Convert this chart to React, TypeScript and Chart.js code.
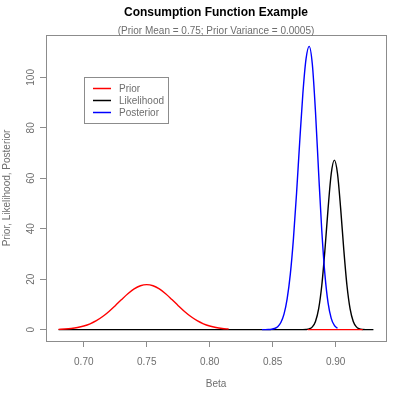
import React, { useEffect, useRef } from "react";
import { Chart, registerables } from "chart.js";

Chart.register(...registerables);

const titleText = "Consumption Function Example";
const subtitleText = "(Prior Mean = 0.75; Prior Variance = 0.0005)";
const xAxisTitle = "Beta";
const yAxisTitle = "Prior, Likelihood, Posterior";
const seriesNames = ["Prior", "Likelihood", "Posterior"];
const seriesColors = ["#ff0000", "#000000", "#0000ff"];

const xTicks = [0.7, 0.75, 0.8, 0.85, 0.9];
const yTicks = [0, 20, 40, 60, 80, 100];

const priorX = [
  0.68, 0.685, 0.69, 0.695, 0.7, 0.705, 0.71, 0.715, 0.72, 0.725, 0.73, 0.735, 0.74, 0.745,
  0.75, 0.755, 0.76, 0.765, 0.77, 0.775, 0.78, 0.785, 0.79, 0.795, 0.8, 0.805, 0.81, 0.815,
];
const priorY = [
  0.13, 0.26, 0.48, 0.85, 1.45, 2.33, 3.57, 5.21, 7.22, 9.52, 11.94, 14.24, 16.14, 17.41,
  17.85, 17.41, 16.14, 14.24, 11.94, 9.52, 7.22, 5.21, 3.57, 2.33, 1.45, 0.85, 0.48, 0.26,
];
const priorTailX = [0.8778, 0.9215];
const priorTailY = [0, 0];

const likelihoodX = [
  0.68, 0.874, 0.8765, 0.879, 0.8815, 0.884, 0.8865, 0.889, 0.8915, 0.894, 0.8965, 0.899,
  0.9015, 0.904, 0.9065, 0.909, 0.9115, 0.914, 0.9165, 0.919, 0.9215, 0.924, 0.93,
];
const likelihoodY = [
  0, 0.01, 0.07, 0.31, 1.1, 3.27, 8.23, 17.5, 31.6, 48.0, 61.8, 67.2,
  61.8, 48.0, 31.6, 17.5, 8.23, 3.27, 1.1, 0.31, 0.07, 0.01, 0,
];

const posteriorX = [
  0.8415, 0.844, 0.8465, 0.849, 0.8515, 0.854, 0.8565, 0.859, 0.8615, 0.864, 0.8665, 0.869,
  0.8715, 0.874, 0.8765, 0.879, 0.8815, 0.884, 0.8865, 0.889, 0.8915, 0.894, 0.8965, 0.899, 0.9015,
];
const posteriorY = [
  0, 0.01, 0.05, 0.16, 0.46, 1.2, 2.85, 6.16, 12.2, 21.9, 36.1, 54.3,
  74.7, 93.7, 107.3, 112.3, 105.2, 86.4, 62.2, 39.3, 21.8, 10.6, 4.5, 1.68, 0.55,
];

const FONT = '"Liberation Sans", Arial, sans-serif';
const GRAY_TEXT = "#6e6e6e";
const GRAY_LINE = "#8c8c8c";

const pts = (xs: number[], ys: number[]) => xs.map((x, i) => ({ x, y: ys[i] }));

const decorPlugin = {
  id: "decor",
  afterDraw(chart: any) {
    const { ctx, chartArea: a } = chart;
    ctx.save();
    // plot box
    ctx.strokeStyle = GRAY_LINE;
    ctx.lineWidth = 1;
    ctx.strokeRect(Math.round(a.left) + 0.5, Math.round(a.top) + 0.5, Math.round(a.right - a.left), Math.round(a.bottom - a.top));
    // titles
    const cx = (a.left + a.right) / 2;
    ctx.textAlign = "center";
    ctx.textBaseline = "middle";
    ctx.fillStyle = "#000";
    ctx.font = `bold 12px ${FONT}`;
    ctx.fillText(titleText, cx, 13);
    ctx.fillStyle = GRAY_TEXT;
    ctx.font = `10px ${FONT}`;
    ctx.fillText(subtitleText, cx, 31);
    // legend
    const bx = 84, by = 77, bw = 84, bh = 46;
    ctx.strokeStyle = GRAY_LINE;
    ctx.strokeRect(bx + 0.5, by + 0.5, bw, bh);
    ctx.textAlign = "left";
    seriesNames.forEach((name, i) => {
      const y = by + 11.5 + i * 12;
      ctx.strokeStyle = seriesColors[i];
      ctx.lineWidth = 1.5;
      ctx.beginPath();
      ctx.moveTo(bx + 9, y);
      ctx.lineTo(bx + 27, y);
      ctx.stroke();
      ctx.fillStyle = GRAY_TEXT;
      ctx.fillText(name, bx + 35, y + 0.5);
    });
    ctx.restore();
  },
};

export default function App() {
  const ref = useRef<HTMLCanvasElement | null>(null);
  useEffect(() => {
    if (!ref.current) return;
    const lineDs = (label: string, data: any[], color: string, order: number) => ({
      label,
      data,
      borderColor: color,
      backgroundColor: color,
      borderWidth: 1.4,
      pointRadius: 0,
      fill: false,
      cubicInterpolationMode: "monotone" as const,
      order,
    });
    const chart = new Chart(ref.current, {
      type: "line",
      data: {
        datasets: [
          lineDs(seriesNames[0], pts(priorX, priorY), seriesColors[0], 0),
          lineDs(seriesNames[0] + " tail", pts(priorTailX, priorTailY), seriesColors[0], 0),
          lineDs(seriesNames[2], pts(posteriorX, posteriorY), seriesColors[2], 1),
          lineDs(seriesNames[1], pts(likelihoodX, likelihoodY), seriesColors[1], 2),
        ],
      },
      options: {
        animation: false,
        responsive: false,
        devicePixelRatio: 1,
        layout: { padding: { top: 35, right: 14, left: 0, bottom: 0 } },
        plugins: { legend: { display: false }, tooltip: { enabled: false }, title: { display: false } },
        scales: {
          x: {
            type: "linear",
            min: 0.67,
            max: 0.94,
            afterBuildTicks: (s: any) => {
              s.ticks = xTicks.map((v) => ({ value: v }));
            },
            afterFit: (s: any) => {
              s.height = 52;
            },
            border: { display: false },
            grid: { drawOnChartArea: false, drawTicks: true, tickLength: 6, color: GRAY_LINE },
            ticks: {
              autoSkip: false,
              maxRotation: 0,
              padding: 9,
              color: GRAY_TEXT,
              font: { family: FONT, size: 10 },
              callback: (v: any) => Number(v).toFixed(2),
            },
            title: {
              display: true,
              text: xAxisTitle,
              color: GRAY_TEXT,
              font: { family: FONT, size: 10 },
              padding: { top: 0, bottom: 3 },
            },
          },
          y: {
            type: "linear",
            min: -4.49,
            max: 116.8,
            afterBuildTicks: (s: any) => {
              s.ticks = yTicks.map((v) => ({ value: v }));
            },
            afterFit: (s: any) => {
              s.width = 46;
            },
            border: { display: false },
            grid: { drawOnChartArea: false, drawTicks: true, tickLength: 6, color: GRAY_LINE },
            ticks: {
              minRotation: 90,
              maxRotation: 90,
              crossAlign: "center",
              padding: 0,
              color: GRAY_TEXT,
              font: { family: FONT, size: 10 },
            },
            title: {
              display: true,
              text: yAxisTitle,
              color: GRAY_TEXT,
              font: { family: FONT, size: 10 },
              padding: { top: 1, bottom: 0 },
            },
          },
        },
      },
      plugins: [decorPlugin],
    } as any);
    return () => chart.destroy();
  }, []);
  return (
    <div style={{ position: "absolute", left: 0, top: 0, width: 400, height: 393, background: "#fff" }}>
      <canvas ref={ref} width={400} height={393} style={{ display: "block" }} />
    </div>
  );
}
